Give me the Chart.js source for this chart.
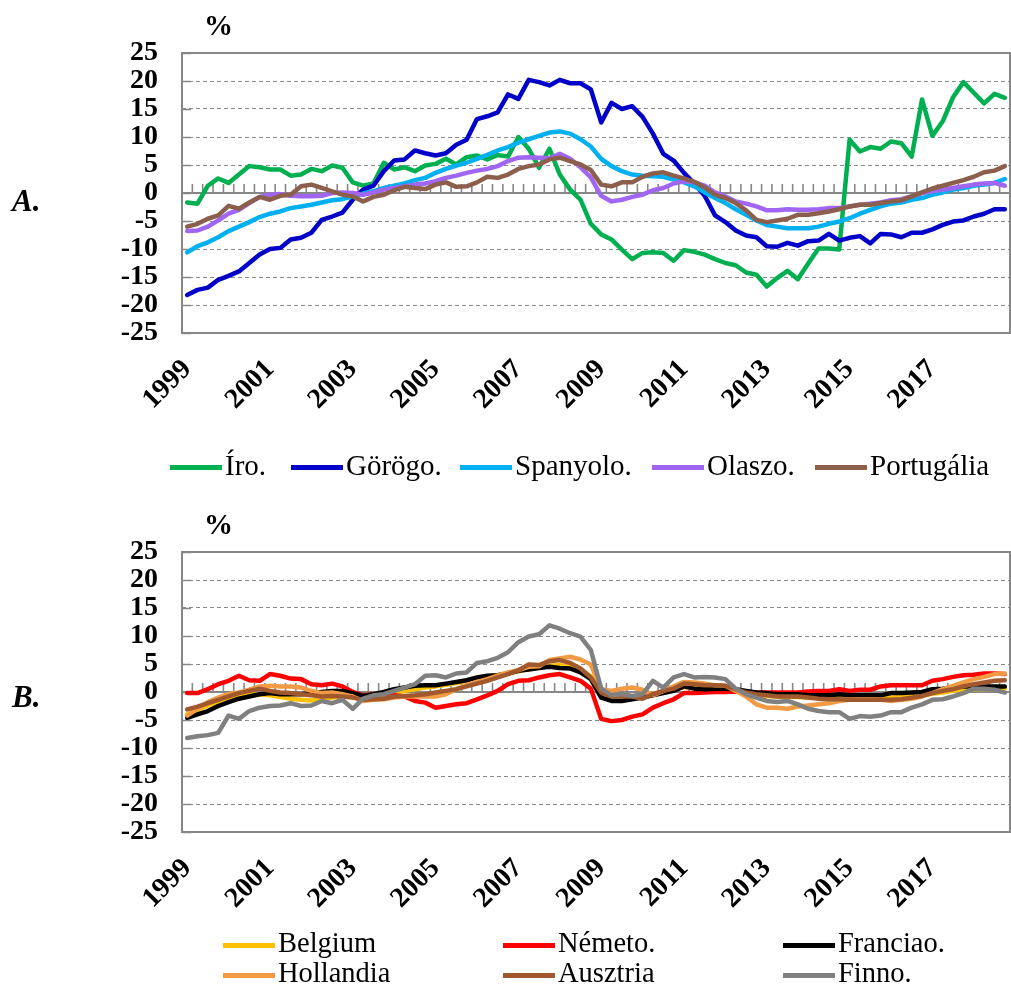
<!DOCTYPE html>
<html>
<head>
<meta charset="utf-8">
<script src="https://cdn.jsdelivr.net/npm/chart.js@4.4.1/dist/chart.umd.min.js"></script>
<style>
  html, body { margin: 0; padding: 0; background: #fff; }
  #page { position: relative; width: 1011px; height: 985px; overflow: hidden;
          font-family: 'Liberation Serif', 'Times New Roman', serif; color: #000; }
  canvas { position: absolute; left: 0; }
  .txt { position: absolute; white-space: nowrap; line-height: 1; }
  .unit { font-weight: bold; font-size: 29px; }
  .panel { font-weight: bold; font-style: italic; font-size: 31px; }
  .swatch { position: absolute; width: 52px; height: 5px; }
</style>
</head>
<body>
<div id="page">
  <canvas id="chartA" width="1011" height="440" style="top:0"></canvas>
  <canvas id="chartB" width="1011" height="440" style="top:499px"></canvas>
  <div class="txt unit" style="left:204px; top:11px">%</div>
  <div class="txt unit" style="left:204px; top:510px">%</div>
  <div class="txt panel" style="left:12px; top:185px">A.</div>
  <div class="txt panel" style="left:12px; top:681px">B.</div>
</div>
<script>
// Quarterly categories, 1999 Q1 – 2018 Q4
const quarters = [];
for (let yr = 1999; yr <= 2018; yr++) {
  for (let q = 1; q <= 4; q++) quarters.push(yr + '. Q' + q);
}
const yearTicks = ['1999', '2001', '2003', '2005', '2007', '2009', '2011', '2013', '2015', '2017'];

// Panel A – periphery countries (%)
const iro = [-1.7,-1.9,1.3,2.6,1.8,3.3,4.8,4.6,4.2,4.2, 3.1,3.3,4.3,3.9,4.9,4.5,1.9,1.3,1.7,5.4,
  4.2,4.6,3.9,4.9,5.2,6.1,5.1,6.4,6.7,6.0, 6.8,6.5,10.0,7.9,4.5,7.9,3.3,0.6,-1.2,-5.5,
  -7.4,-8.3,-10.1,-11.8,-10.7,-10.6,-10.7,-12.1,-10.2,-10.5, -11.0,-11.8,-12.5,-12.9,-14.2,-14.6,-16.7,-15.2,-13.9,-15.4,
  -12.6,-9.9,-9.9,-10.1,9.5,7.4,8.2,7.9,9.2,8.9, 6.5,16.7,10.2,12.8,17.1,19.8,17.9,16.0,17.7,17.0];
const gorogo = [-18.2,-17.3,-16.9,-15.5,-14.8,-14.0,-12.5,-11.0,-10.0,-9.8, -8.3,-8.0,-7.1,-4.8,-4.2,-3.5,-1.2,0.6,1.3,3.9,
  5.8,6.0,7.6,7.1,6.7,7.1,8.6,9.5,13.2,13.7, 14.4,17.6,16.8,20.2,19.8,19.2,20.2,19.6,19.6,18.5,
  12.6,16.1,15.0,15.5,13.6,10.6,7.0,5.8,3.6,1.7, -0.5,-4.0,-5.2,-6.7,-7.6,-7.9,-9.5,-9.6,-8.9,-9.4,
  -8.6,-8.5,-7.3,-8.5,-8.0,-7.7,-9.0,-7.3,-7.4,-7.9, -7.1,-7.1,-6.5,-5.7,-5.1,-4.9,-4.2,-3.7,-2.9,-2.9];
const spanyolo = [-10.6,-9.5,-8.8,-7.9,-6.8,-6.0,-5.2,-4.3,-3.7,-3.3, -2.7,-2.4,-2.1,-1.7,-1.3,-1.1,-0.6,-0.1,0.3,0.9,
  1.3,1.7,2.3,2.7,3.6,4.3,4.9,5.4,6.1,6.8, 7.6,8.2,9.0,9.6,10.2,10.8,11.0,10.6,9.6,8.3,
  6.1,4.8,3.9,3.3,3.1,3.0,2.9,2.4,1.9,1.2, 0.1,-0.9,-1.8,-2.9,-3.9,-4.9,-5.7,-6.0,-6.3,-6.3,
  -6.3,-6.0,-5.5,-5.1,-4.5,-3.7,-3.0,-2.4,-1.9,-1.7, -1.2,-0.9,-0.3,0.1,0.6,0.9,1.3,1.5,1.8,2.5];
const olaszo = [-6.8,-6.7,-6.0,-4.9,-3.7,-3.0,-1.8,-0.7,-0.3,-0.2, -0.5,-0.6,-0.6,-0.5,0.0,0.1,0.0,-0.3,0.1,0.6,
  0.9,1.2,1.5,1.7,2.1,2.7,3.1,3.6,4.0,4.3, 4.8,5.7,6.3,6.4,6.3,6.2,7.0,6.1,4.6,2.8,
  -0.5,-1.5,-1.2,-0.7,-0.3,0.5,0.9,1.7,2.1,1.9, 1.3,0.1,-0.6,-1.5,-1.9,-2.4,-3.1,-3.1,-2.9,-3.0,
  -3.0,-2.9,-2.7,-2.7,-2.4,-2.1,-1.9,-1.7,-1.3,-1.1, -0.6,0.0,0.3,0.6,0.9,1.2,1.5,1.7,1.8,1.3];
const portugalia = [-6.0,-5.5,-4.6,-4.0,-2.3,-2.8,-1.7,-0.7,-1.2,-0.5, -0.3,1.2,1.5,0.9,0.3,-0.3,-0.6,-1.5,-0.7,-0.3,
  0.5,1.1,0.9,0.7,1.5,1.9,1.1,1.2,1.9,2.9, 2.7,3.3,4.3,4.8,5.1,6.0,6.3,5.7,5.1,4.1,
  1.5,1.2,1.9,1.9,2.9,3.5,3.7,3.1,2.6,2.0, 1.0,-0.3,-0.9,-1.8,-3.1,-4.8,-5.2,-4.9,-4.6,-3.9,
  -3.9,-3.6,-3.3,-2.9,-2.4,-2.1,-2.1,-1.8,-1.5,-1.3, -0.6,0.1,0.8,1.3,1.8,2.3,2.9,3.7,4.0,4.8];

// Panel B – core countries (%)
const belgium = [-4.0,-3.2,-2.4,-1.8,-1.2,-0.8,-0.5,-0.4,-0.6,-0.9, -1.2,-1.4,-1.5,-1.4,-1.0,-0.8,-0.9,-1.2,-1.0,-0.7,
  -0.2,0.2,0.5,0.8,1.0,1.3,1.6,2.0,2.4,2.8, 3.0,3.4,3.7,4.1,4.4,4.7,4.8,4.6,4.0,2.8,
  -0.3,-0.8,-1.0,-0.9,-0.6,-0.3,0.0,0.4,0.9,0.8, 0.6,0.5,0.3,0.1,-0.2,-0.5,-0.7,-0.8,-0.9,-0.9,
  -1.0,-1.0,-1.1,-1.1,-1.2,-1.2,-1.2,-1.1,-1.0,-0.9, -0.8,-0.6,-0.3,-0.1,0.2,0.4,0.5,0.6,0.5,0.6];
const nemeto = [-0.2,-0.2,0.5,1.4,2.0,2.9,2.1,2.0,3.2,2.9, 2.4,2.3,1.4,1.2,1.5,1.0,0.0,-0.6,-0.4,-0.4,
  -0.6,-0.8,-1.6,-1.9,-2.8,-2.5,-2.2,-2.0,-1.3,-0.6, 0.2,1.4,2.0,2.1,2.6,3.0,3.2,2.6,2.0,0.6,
  -4.8,-5.2,-5.0,-4.4,-4.0,-2.8,-2.0,-1.3,-0.2,-0.2, -0.1,0.0,0.0,0.1,0.0,-0.1,-0.1,-0.1,-0.1,-0.1,
  0.1,0.2,0.2,0.5,0.2,0.4,0.4,1.0,1.2,1.2, 1.2,1.2,2.0,2.3,2.7,3.0,3.1,3.3,3.3,3.2];
const franciao = [-4.6,-4.0,-3.4,-2.5,-1.8,-1.2,-0.8,-0.4,-0.2,-0.4, -0.4,-0.4,-0.2,0.0,0.2,0.2,-0.2,-0.7,-0.4,0.0,
  0.5,0.8,1.1,1.2,1.2,1.5,1.8,2.1,2.6,2.9, 3.0,3.3,3.8,4.0,4.3,4.5,4.3,4.2,3.5,2.3,
  -1.0,-1.6,-1.6,-1.3,-1.0,-0.6,-0.2,0.2,1.0,0.6, 0.5,0.6,0.6,0.5,0.2,-0.1,-0.2,-0.4,-0.4,-0.4,
  -0.6,-0.6,-0.6,-0.4,-0.6,-0.6,-0.6,-0.6,-0.2,-0.2, -0.1,0.0,0.5,0.6,0.8,1.0,1.0,1.0,1.0,1.0];
const hollandia = [-4.2,-3.0,-1.8,-1.0,-0.4,-0.1,0.4,1.0,1.1,1.0, 1.0,0.8,0.2,-0.2,-0.1,-0.4,-0.8,-1.6,-1.4,-1.3,
  -1.0,-0.8,-0.8,-0.8,-0.8,-0.4,0.5,1.2,1.8,2.3, 2.9,3.5,3.9,4.5,4.6,5.7,6.0,6.3,5.8,4.9,
  0.5,0.2,0.6,0.8,0.4,-0.6,0.2,1.0,1.8,1.7, 1.5,1.2,1.1,0.2,-0.8,-2.2,-2.8,-2.8,-3.0,-2.6,
  -2.4,-2.2,-2.0,-1.6,-1.4,-1.3,-1.3,-1.4,-1.6,-1.4, -1.2,-0.8,-0.2,0.5,1.1,1.7,2.3,2.7,3.2,3.3];
const ausztria = [-3.1,-2.6,-2.0,-1.4,-0.8,-0.2,0.2,0.6,0.2,-0.1, -0.2,-0.4,-0.6,-0.8,-0.7,-0.8,-1.0,-1.4,-1.3,-1.2,
  -0.8,-0.7,-0.6,-0.4,-0.1,0.2,0.5,1.0,1.5,2.0, 2.6,3.2,3.9,4.9,4.8,5.5,5.7,5.2,4.2,2.6,
  -0.1,-0.8,-0.8,-0.8,-1.2,-0.4,0.2,0.6,1.5,1.4, 1.2,1.2,1.1,0.5,-0.1,-0.4,-0.6,-0.8,-0.8,-0.8,
  -1.0,-1.2,-1.3,-1.3,-1.4,-1.4,-1.4,-1.4,-1.4,-1.3, -1.0,-0.7,-0.2,0.2,0.5,1.0,1.4,1.7,2.0,2.1];
const finno = [-8.2,-7.9,-7.7,-7.3,-4.2,-4.8,-3.4,-2.8,-2.5,-2.4, -2.0,-2.5,-2.4,-1.6,-2.0,-1.4,-3.0,-1.2,-0.6,-0.4,
  0.2,0.8,1.4,2.9,3.0,2.6,3.3,3.5,5.2,5.5, 6.1,7.1,8.9,9.9,10.3,11.9,11.3,10.5,9.9,7.5,
  0.6,-0.6,-0.4,-0.7,-0.4,2.0,0.8,2.6,3.2,2.6, 2.7,2.6,2.3,0.6,-0.4,-1.0,-1.6,-1.8,-1.6,-2.2,
  -3.0,-3.4,-3.6,-3.6,-4.8,-4.3,-4.4,-4.2,-3.6,-3.6, -2.8,-2.2,-1.4,-1.3,-0.8,-0.2,0.6,0.6,0.4,-0.1];

const namesA = ['Íro.', 'Görögo.', 'Spanyolo.', 'Olaszo.', 'Portugália'];
const seriesA = [iro, gorogo, spanyolo, olaszo, portugalia];
const colorsA = ['#00B050', '#0000C8', '#00B0F0', '#A066F2', '#8C5E4C'];

const namesB = ['Belgium', 'Németo.', 'Franciao.', 'Hollandia', 'Ausztria', 'Finno.'];
const seriesB = [belgium, nemeto, franciao, hollandia, ausztria, finno];
const colorsB = ['#FFC000', '#FF0000', '#000000', '#F39A45', '#A0582C', '#808080'];

const FONT = "'Liberation Serif', 'Times New Roman', serif";
const AXIS_GREY = '#878787';

// Plot frame, inward value ticks and the zero line carrying quarterly tick marks
const axisDecor = {
  id: 'axisDecor',
  beforeDatasetsDraw(chart) {
    const { ctx, chartArea: a, scales: { x, y } } = chart;
    ctx.save();
    ctx.strokeStyle = AXIS_GREY;
    ctx.lineWidth = 2;
    ctx.strokeRect(a.left, a.top, a.right - a.left, a.bottom - a.top);

    ctx.lineWidth = 1.5;
    y.ticks.forEach(t => {
      const py = Math.round(y.getPixelForValue(t.value)) + 0.5;
      ctx.beginPath();
      ctx.moveTo(a.left, py);
      ctx.lineTo(a.left + 9, py);
      ctx.stroke();
    });

    const y0 = y.getPixelForValue(0);
    ctx.lineWidth = 2;
    ctx.beginPath();
    ctx.moveTo(a.left, y0);
    ctx.lineTo(a.right, y0);
    ctx.stroke();

    const n = x.getLabels().length;
    ctx.lineWidth = 1.6;
    for (let i = 1; i < n; i++) {
      const px = (x.getPixelForValue(i - 1) + x.getPixelForValue(i)) / 2;
      ctx.beginPath();
      ctx.moveTo(px, y0);
      ctx.lineTo(px, y0 - 9);
      ctx.stroke();
    }
    ctx.restore();
  }
};

function makePanel(canvasId, names, series, colors) {
  const count = names.length;
  return new Chart(document.getElementById(canvasId), {
    type: 'line',
    data: {
      labels: quarters,
      datasets: names.map((name, k) => ({
        label: name,
        data: series[k],
        borderColor: colors[k],
        backgroundColor: colors[k],
        borderWidth: 4.5,
        pointRadius: 0,
        tension: 0,
        fill: false,
        borderJoinStyle: 'round',
        borderCapStyle: 'round',
        order: count - 1 - k
      }))
    },
    options: {
      responsive: false,
      animation: false,
      devicePixelRatio: 1,
      events: [],
      layout: { padding: { top: 53, left: 0, right: 1, bottom: 0 } },
      plugins: { legend: { display: false }, tooltip: { enabled: false } },
      scales: {
        x: {
          type: 'category',
          offset: true,
          grid: { display: false },
          border: { display: false },
          ticks: {
            autoSkip: false,
            minRotation: 45,
            maxRotation: 45,
            padding: 12,
            color: '#000',
            font: { family: FONT, size: 28, weight: 'bold' },
            callback: (v, i) => (i % 8 === 0 ? yearTicks[i / 8] : '')
          },
          afterFit: s => { s.height = 107; s.paddingLeft = 0; s.paddingRight = 0; }
        },
        y: {
          min: -25,
          max: 25,
          ticks: {
            stepSize: 5,
            autoSkip: false,
            padding: 24,
            color: '#000',
            font: { family: FONT, size: 28, weight: 'bold' }
          },
          grid: {
            drawTicks: false,
            lineWidth: 1,
            color: c => ([0, 25, -25].includes(c.tick.value) ? 'rgba(0,0,0,0)' : '#8a8a8a')
          },
          border: { display: false, dash: [4, 3] },
          afterFit: s => { s.width = 182; s.paddingTop = 0; s.paddingBottom = 0; }
        }
      }
    },
    plugins: [axisDecor]
  });
}

makePanel('chartA', namesA, seriesA, colorsA);
makePanel('chartB', namesB, seriesB, colorsB);

// Legends: line swatch followed by the series name
const legendSlotsA = [
  { x: 170, y: 467 }, { x: 291, y: 467 }, { x: 460, y: 467 }, { x: 652, y: 467 }, { x: 815, y: 467 }
];
const legendSlotsB = [
  { x: 223, y: 945 }, { x: 503, y: 945 }, { x: 783, y: 945 },
  { x: 223, y: 975 }, { x: 503, y: 975 }, { x: 783, y: 975 }
];
const page = document.getElementById('page');
function addLegend(names, colors, slots, size, baselineShift) {
  names.forEach((name, k) => {
    const s = slots[k];
    const sw = document.createElement('div');
    sw.className = 'swatch';
    sw.style.left = s.x + 'px';
    sw.style.top = (s.y - 2.5) + 'px';
    sw.style.background = colors[k];
    page.appendChild(sw);
    const t = document.createElement('div');
    t.className = 'txt';
    t.style.fontSize = size + 'px';
    t.style.left = (s.x + 55) + 'px';
    t.style.top = (s.y + baselineShift - 0.8375 * size) + 'px';
    t.textContent = name;
    page.appendChild(t);
  });
}
addLegend(namesA, colorsA, legendSlotsA, 29, 8);
addLegend(namesB, colorsB, legendSlotsB, 28.5, 8);
</script>
</body>
</html>
